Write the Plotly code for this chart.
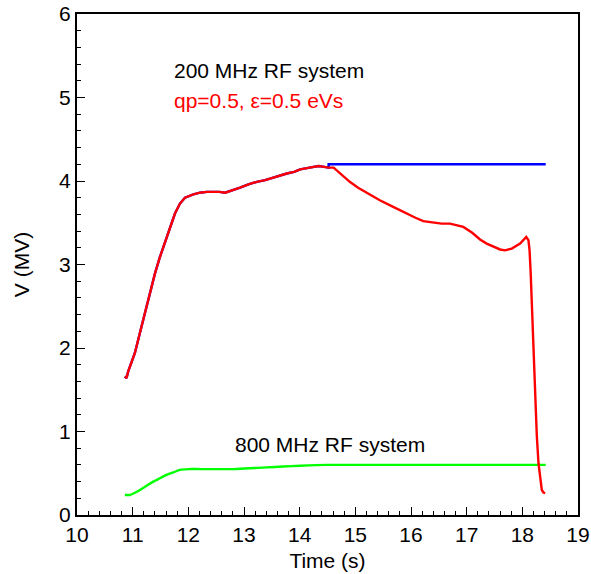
import plotly.graph_objects as go

# 200 MHz RF voltage (red), qp=0.5, eps=0.5 eVs
red_t = [10.86, 10.89, 10.92, 10.98, 11.04, 11.13, 11.22, 11.31, 11.40, 11.49, 11.58, 11.67, 11.76,
         11.85, 11.94, 12.09, 12.21, 12.33, 12.45, 12.56, 12.66, 12.80, 12.93, 13.08, 13.23,
         13.38, 13.53, 13.65, 13.77, 13.90, 14.01, 14.18, 14.34, 14.44, 14.52, 14.61, 14.75, 14.90,
         15.05, 15.20, 15.44, 15.68, 15.92, 16.08, 16.22, 16.40, 16.55, 16.70, 16.82, 16.94, 17.10,
         17.24, 17.36, 17.48, 17.60, 17.69, 17.81, 17.96, 18.02, 18.07, 18.11, 18.13, 18.15, 18.17,
         18.20, 18.23, 18.26, 18.29, 18.32, 18.35, 18.38, 18.41]
red_v = [1.66, 1.64, 1.72, 1.82, 1.94, 2.18, 2.42, 2.66, 2.89, 3.09, 3.27, 3.45, 3.61,
         3.73, 3.80, 3.84, 3.86, 3.87, 3.87, 3.87, 3.86, 3.89, 3.92, 3.96, 3.99,
         4.01, 4.04, 4.07, 4.09, 4.11, 4.14, 4.16, 4.18, 4.17, 4.16, 4.16, 4.08, 3.99,
         3.92, 3.86, 3.77, 3.69, 3.61, 3.56, 3.52, 3.50, 3.49, 3.49, 3.47, 3.45, 3.38,
         3.30, 3.25, 3.21, 3.18, 3.17, 3.19, 3.25, 3.29, 3.33, 3.29, 3.17, 2.90, 2.57,
         2.00, 1.38, 0.95, 0.62, 0.42, 0.30, 0.27, 0.26]

# 200 MHz voltage program (blue): follows red, then flat
blue_flat_t = [14.52, 14.52, 18.42]
blue_flat_v = [4.16, 4.20, 4.20]

# 800 MHz RF voltage (green)
green_t = [10.86, 10.95, 11.05, 11.13, 11.25, 11.37, 11.49, 11.61, 11.73, 11.85, 12.00, 12.21,
           12.50, 12.81, 13.10, 13.41, 13.70, 14.01, 14.50, 15.50, 16.50, 17.50, 18.42]
green_v = [0.24, 0.24, 0.27, 0.30, 0.35, 0.40, 0.44, 0.48, 0.51, 0.54, 0.55, 0.55,
           0.55, 0.55, 0.56, 0.57, 0.58, 0.59, 0.60, 0.60, 0.60, 0.60, 0.60]

x_ticks = [10, 11, 12, 13, 14, 15, 16, 17, 18, 19]
y_ticks = [0, 1, 2, 3, 4, 5, 6]

blue_t = [t for t in red_t if t < 14.52] + blue_flat_t
blue_v = [v for t, v in zip(red_t, red_v) if t < 14.52] + blue_flat_v

FONT = "Liberation Sans, Arial, sans-serif"
FS = 21

fig = go.Figure()
fig.add_trace(go.Scatter(x=blue_t, y=blue_v, mode="lines",
                         line=dict(color="#0000ff", width=2.4), showlegend=False))
fig.add_trace(go.Scatter(x=green_t, y=green_v, mode="lines",
                         line=dict(color="#00ff00", width=2.4, shape="spline", smoothing=0.6),
                         showlegend=False))
fig.add_trace(go.Scatter(x=red_t, y=red_v, mode="lines",
                         line=dict(color="#ff0000", width=2.4), showlegend=False))

fig.add_annotation(x=11.70, y=5.32, text="200 MHz RF system", showarrow=False,
                   xanchor="left", yanchor="middle", font=dict(color="black", size=FS, family=FONT))
fig.add_annotation(x=11.70, y=4.96, text="qp=0.5, ε=0.5 eVs", showarrow=False,
                   xanchor="left", yanchor="middle", font=dict(color="#ff0000", size=FS, family=FONT))
fig.add_annotation(x=12.81, y=0.84, text="800 MHz RF system", showarrow=False,
                   xanchor="left", yanchor="middle", font=dict(color="black", size=FS, family=FONT))

axis_common = dict(showgrid=False, zeroline=False, showline=True, linecolor="black",
                   linewidth=2, mirror=True, ticks="inside", ticklen=8, tickwidth=1,
                   tickcolor="black", automargin=False,
                   tickfont=dict(size=FS, family=FONT, color="black"))

fig.update_xaxes(range=[10, 19], tickvals=x_ticks, ticktext=[str(v) for v in x_ticks],
                 minor=dict(ticks="inside", ticklen=4, dtick=0.2, tick0=10, tickcolor="black"),
                 title=dict(text="Time (s)", font=dict(size=FS, family=FONT, color="black"), standoff=8),
                 **axis_common)
fig.update_yaxes(range=[0, 6], tickvals=y_ticks, ticktext=[str(v) for v in y_ticks],
                 minor=dict(ticks="inside", ticklen=4, dtick=0.2, tick0=0, tickcolor="black"),
                 title=dict(text="V (MV)", font=dict(size=FS, family=FONT, color="black"), standoff=24),
                 **axis_common)

fig.update_layout(width=591, height=574, margin=dict(l=77, r=13, t=14, b=59),
                  plot_bgcolor="white", paper_bgcolor="white",
                  font=dict(family=FONT, color="black"))

fig.write_html("out.html")
